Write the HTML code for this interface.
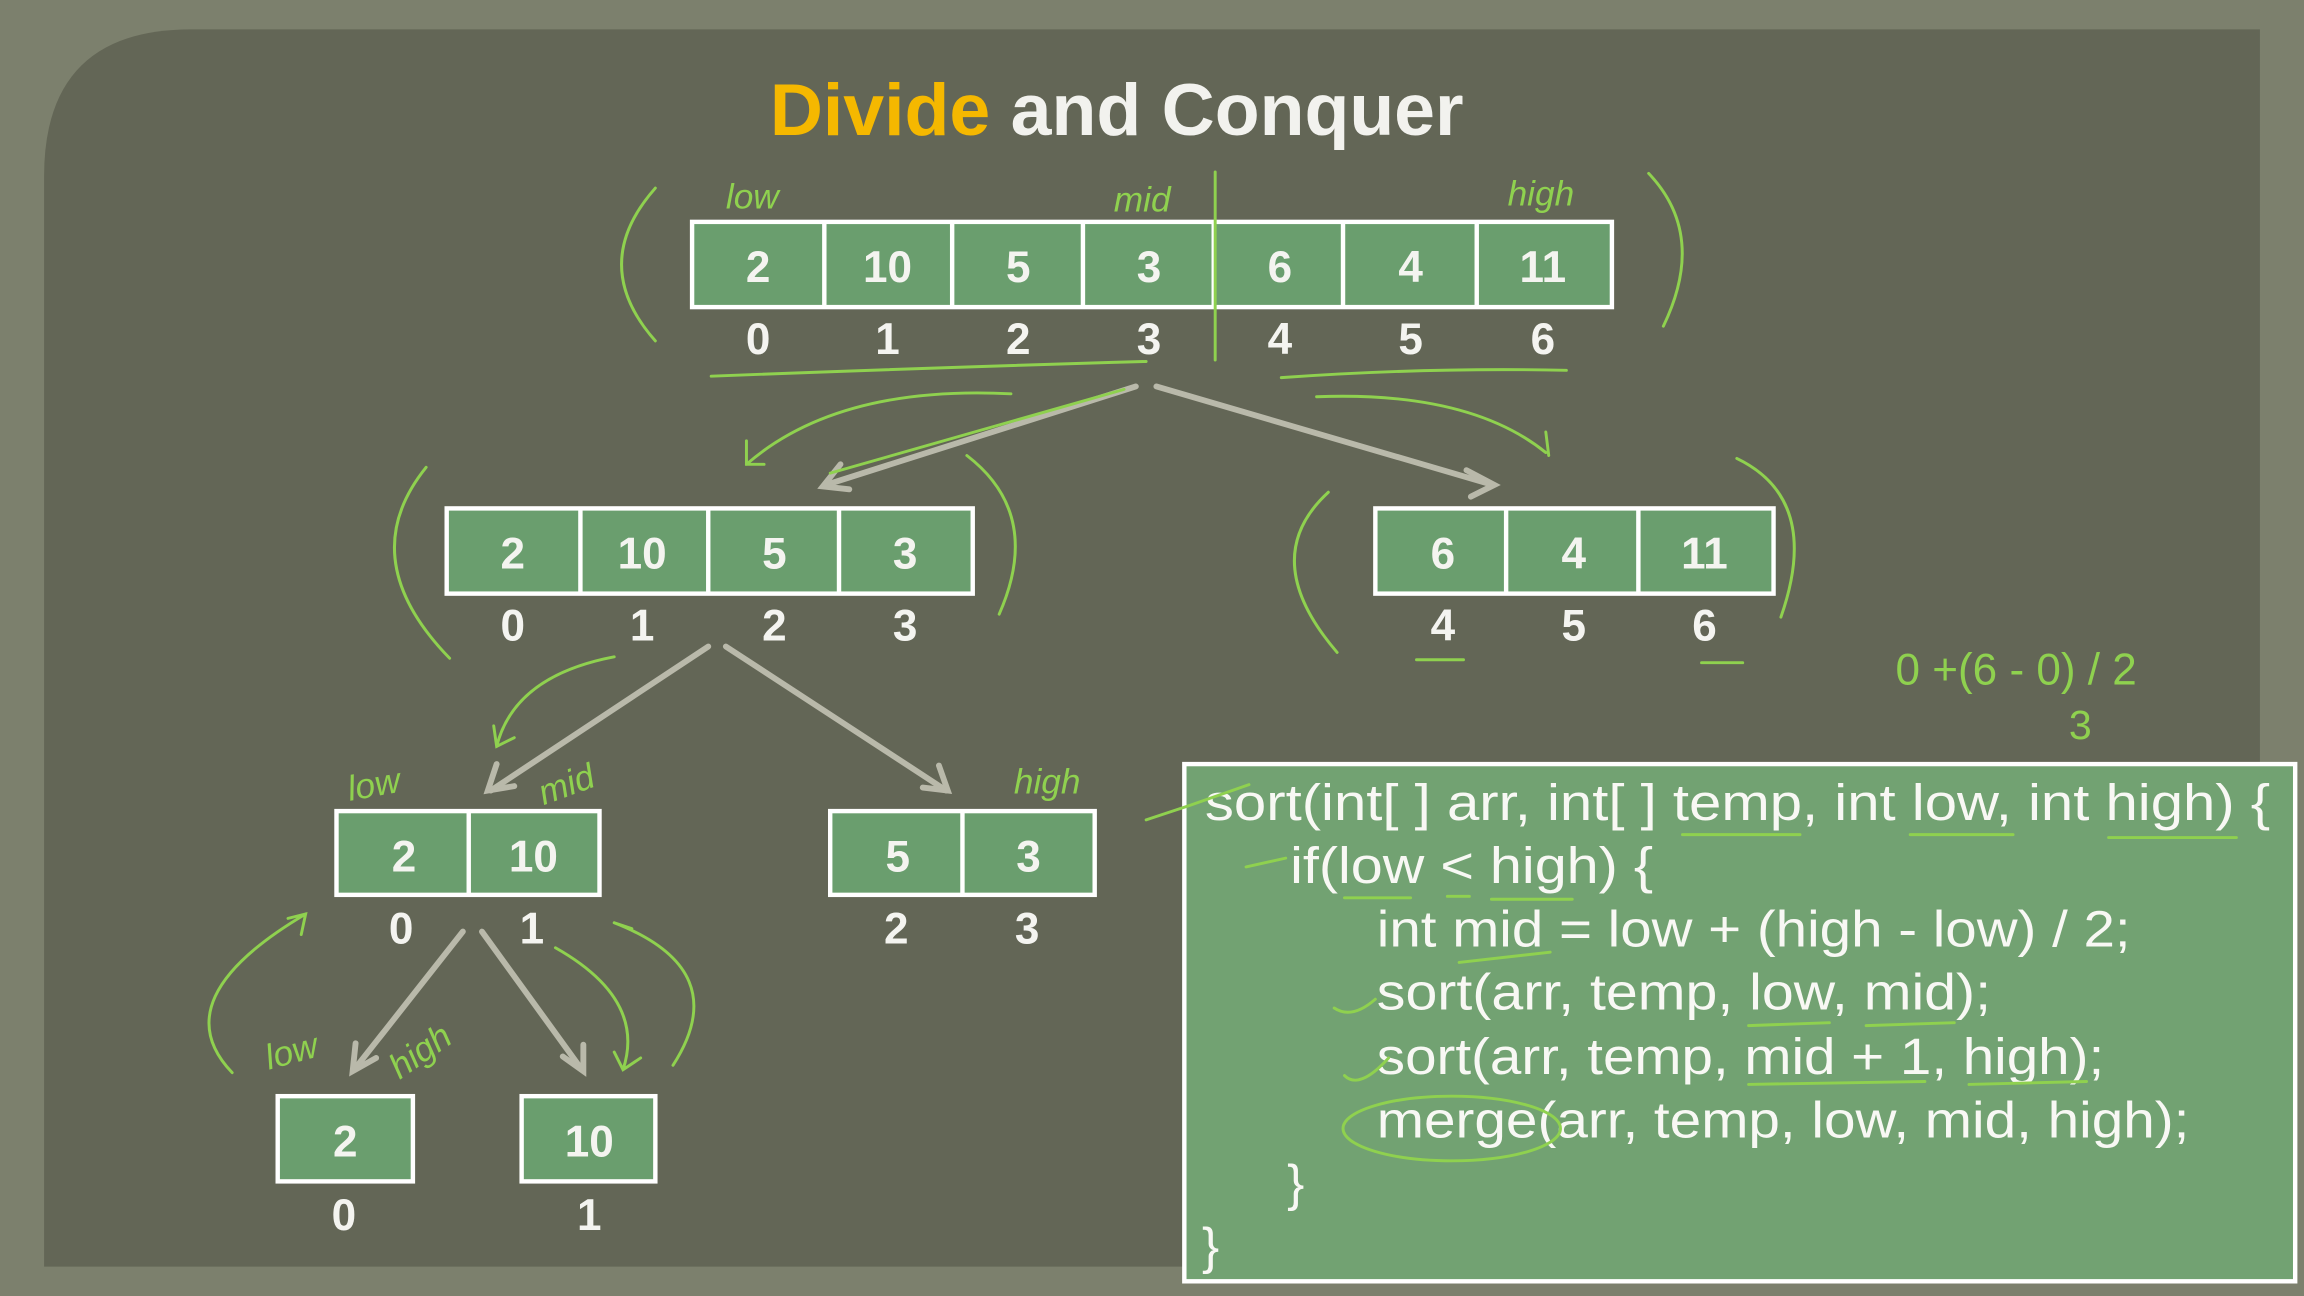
<!DOCTYPE html>
<html><head><meta charset="utf-8"><style>
html,body{margin:0;padding:0;background:#7b7f6c;}
svg{display:block}
</style></head><body>
<svg width="2304" height="1296" viewBox="0 0 1568 882" xmlns="http://www.w3.org/2000/svg">
<rect x="0" y="0" width="1568" height="882" fill="#7c806d"/>
<path d="M130 20 H1538 V862 H30 V120 Q30 20 130 20 Z" fill="#636656"/>
<text x="760" y="92" text-anchor="middle" font-family="Liberation Sans, sans-serif" font-weight="bold" font-size="50" fill="#f2f2ee"><tspan fill="#f5b800">Divide</tspan> and Conquer</text>
<g font-family="Liberation Sans, sans-serif" font-weight="bold" font-size="29" fill="#f4f4f0" text-anchor="middle" stroke="#fff" stroke-width="3">
<rect x="471" y="151" width="626" height="58" fill="#6a9e6e"/>
<line x1="561" y1="151" x2="561" y2="209"/><line x1="648" y1="151" x2="648" y2="209"/><line x1="737" y1="151" x2="737" y2="209"/><line x1="826" y1="151" x2="826" y2="209"/><line x1="914" y1="151" x2="914" y2="209"/><line x1="1005" y1="151" x2="1005" y2="209"/>
<rect x="304" y="346" width="358" height="58" fill="#6a9e6e"/>
<line x1="395" y1="346" x2="395" y2="404"/><line x1="482" y1="346" x2="482" y2="404"/><line x1="571" y1="346" x2="571" y2="404"/>
<rect x="936" y="346" width="271" height="58" fill="#6a9e6e"/>
<line x1="1025" y1="346" x2="1025" y2="404"/><line x1="1115" y1="346" x2="1115" y2="404"/>
<rect x="229" y="552" width="179" height="57" fill="#6a9e6e"/><line x1="319" y1="552" x2="319" y2="609"/>
<rect x="565" y="552" width="180" height="57" fill="#6a9e6e"/><line x1="655" y1="552" x2="655" y2="609"/>
<rect x="189" y="746" width="92" height="58" fill="#6a9e6e"/>
<rect x="355" y="746" width="91" height="58" fill="#6a9e6e"/>
</g>
<g font-family="Liberation Sans, sans-serif" font-weight="bold" font-size="30" fill="#f4f4f0" text-anchor="middle">
<text x="516" y="192">2</text><text x="604" y="192">10</text><text x="693" y="192">5</text><text x="782" y="192">3</text><text x="871" y="192">6</text><text x="960" y="192">4</text><text x="1050" y="192">11</text>
<text x="516" y="241">0</text><text x="604" y="241">1</text><text x="693" y="241">2</text><text x="782" y="241">3</text><text x="871" y="241">4</text><text x="960" y="241">5</text><text x="1050" y="241">6</text>
<text x="349" y="387">2</text><text x="437" y="387">10</text><text x="527" y="387">5</text><text x="616" y="387">3</text>
<text x="349" y="436">0</text><text x="437" y="436">1</text><text x="527" y="436">2</text><text x="616" y="436">3</text>
<text x="982" y="387">6</text><text x="1071" y="387">4</text><text x="1160" y="387">11</text>
<text x="982" y="436">4</text><text x="1071" y="436">5</text><text x="1160" y="436">6</text>
<text x="275" y="593">2</text><text x="363" y="593">10</text><text x="611" y="593">5</text><text x="700" y="593">3</text>
<text x="273" y="642">0</text><text x="362" y="642">1</text><text x="610" y="642">2</text><text x="699" y="642">3</text>
<text x="235" y="787">2</text><text x="401" y="787">10</text>
<text x="234" y="837">0</text><text x="401" y="837">1</text>
</g>
<g stroke="#b9b9aa" stroke-width="4" fill="none" stroke-linecap="round">
<line x1="773" y1="263" x2="562" y2="330"/><polyline points="572,316 560,331 578,333"/>
<line x1="787" y1="263" x2="1016" y2="330"/><polyline points="998,320 1017,330 1001,338"/>
<line x1="482" y1="440" x2="334" y2="538"/><polyline points="338,520 332,538 350,535"/>
<line x1="494" y1="440" x2="644" y2="538"/><polyline points="628,536 645,538 639,521"/>
<line x1="315" y1="634" x2="241" y2="728"/><polyline points="242,710 240,729 256,720"/>
<line x1="328" y1="634" x2="396" y2="728"/><polyline points="383,719 397,729 397,711"/>
</g>
<rect x="806" y="520" width="756" height="352" fill="#72a272" stroke="#fff" stroke-width="3"/>
<g font-family="Liberation Sans, sans-serif" font-size="35" fill="#f8f8f4" lengthAdjust="spacingAndGlyphs">
<text x="820" y="558" textLength="725" lengthAdjust="spacingAndGlyphs">sort(int[ ] arr, int[ ] temp, int low, int high) {</text>
<text x="878" y="601" textLength="247" lengthAdjust="spacingAndGlyphs">if(low &lt; high) {</text>
<text x="937" y="644" textLength="513" lengthAdjust="spacingAndGlyphs">int mid = low + (high - low) / 2;</text>
<text x="937" y="687" textLength="418" lengthAdjust="spacingAndGlyphs">sort(arr, temp, low, mid);</text>
<text x="937" y="731" textLength="495" lengthAdjust="spacingAndGlyphs">sort(arr, temp, mid + 1, high);</text>
<text x="937" y="774" textLength="553" lengthAdjust="spacingAndGlyphs">merge(arr, temp, low, mid, high);</text>
<text x="876" y="817">}</text>
<text x="818" y="860">}</text>
</g>
<g stroke="#8fd14f" stroke-width="2" fill="none" stroke-linecap="round">
<path d="M446 128 Q400 180 446 232"/><path d="M1122 118 Q1162 160 1132 222"/>
<path d="M827 117 V245"/>
<path d="M484 256 Q640 250 780 246"/><path d="M872 257 Q970 250 1066 252"/>
<path d="M688 268 Q570 262 508 316 M508 300 V316 H520"/>
<path d="M896 270 Q1000 266 1052 308 M1052 294 L1054 310"/>
<path d="M565 322 L765 265"/>
<path d="M290 318 Q240 380 306 448"/><path d="M658 310 Q710 350 680 418"/>
<path d="M904 335 Q855 380 910 444"/><path d="M1182 312 Q1240 340 1212 420"/>
<path d="M964 449 H996 M1158 451 H1186"/>
<path d="M418 447 Q350 460 338 508 M336 494 L338 508 L350 502"/>
<path d="M208 622 Q110 680 158 730 M196 625 L208 622 L205 636"/>
<path d="M418 628 Q500 660 458 725 M418 628 L430 632"/>
<path d="M378 645 Q440 680 424 728 M418 716 L424 728 L436 720"/>
<path d="M780 558 L810 548 L850 534"/><path d="M848 590 L875 584"/>
<path d="M908 686 Q920 694 936 680"/>
<path d="M915 732 Q925 742 945 720"/>
<ellipse cx="988" cy="768" rx="74" ry="22"/>
<path d="M1145 568 H1225 M1300 568 H1370 M1435 570 H1522 M915 611 H960 M985 610 H1000 M1015 612 H1070"/>
<path d="M993 655 L1055 648 M1190 698 L1245 696 M1270 698 L1330 696 M1190 738 L1310 736 M1340 738 L1420 736"/>
</g>
<g font-family="Liberation Sans, sans-serif" font-size="24" fill="#8fd14f" font-style="italic">
<text x="494" y="142">low</text><text x="758" y="144">mid</text><text x="1026" y="140">high</text>
<text x="238" y="545" transform="rotate(-10 238 545)">low</text><text x="370" y="548" transform="rotate(-20 370 548)">mid</text><text x="690" y="540">high</text>
<text x="183" y="728" transform="rotate(-15 183 728)">low</text><text x="272" y="735" transform="rotate(-35 272 735)">high</text>
<text x="1290" y="466" font-size="30" font-style="normal">0 +(6 - 0) / 2</text>
<text x="1408" y="503" font-size="28" font-style="normal">3</text>
</g>
</svg>
</body></html>
